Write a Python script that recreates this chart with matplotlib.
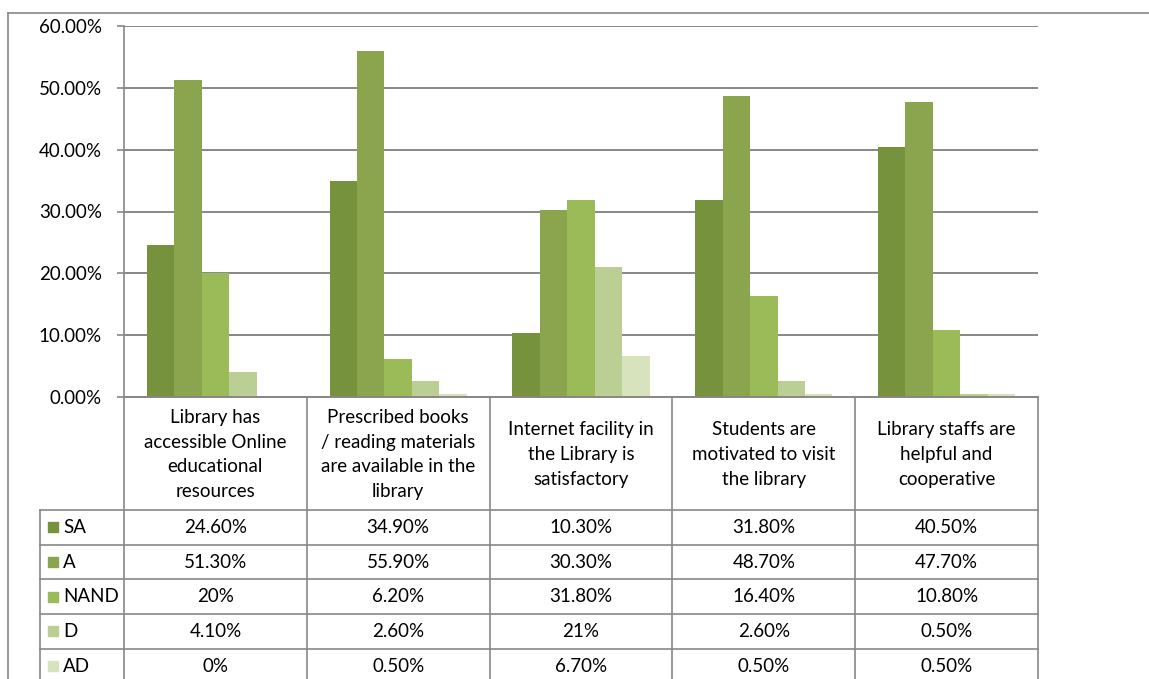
import numpy as np
import matplotlib.pyplot as plt
from matplotlib.patches import Rectangle

plt.rcParams['font.family'] = ['Lato', 'DejaVu Sans']

categories = ['Library has\naccessible Online\neducational\nresources',
              'Prescribed books\n/ reading materials\nare available in the\nlibrary',
              'Internet facility in\nthe Library is\nsatisfactory',
              'Students are\nmotivated to visit\nthe library',
              'Library staffs are\nhelpful and\ncooperative']
series = ['SA', 'A', 'NAND', 'D', 'AD']
SA = [24.6, 34.9, 10.3, 31.8, 40.5]
A = [51.3, 55.9, 30.3, 48.7, 47.7]
NAND = [20, 6.2, 31.8, 16.4, 10.8]
D = [4.1, 2.6, 21, 2.6, 0.5]
AD = [0, 0.5, 6.7, 0.5, 0.5]
values = [SA, A, NAND, D, AD]
colors = ['#76923C', '#8BA54E', '#9BBB59', '#BBCF95', '#D6E3BC']

W, H = 1149, 679
gray = '#878787'
fs = 13.5
x0, x1 = 124, 1038          # plot area left/right (px)
y_top, y_base = 26, 397     # 60% and 0% (px)
y_head = 510
row_h = 34.7
leg_x = 40

fig = plt.figure(figsize=(W/100, H/100), dpi=100)
ax = fig.add_axes([x0/W, 1 - y_base/H, (x1-x0)/W, (y_base-y_top)/H])

n = len(categories)
bw = 0.15
xs = np.arange(n)
for j, (name, vals) in enumerate(zip(series, values)):
    ax.bar(xs + (j-2)*bw, np.array(vals)/100, width=bw, color=colors[j],
           edgecolor='none', zorder=3)

ax.set_xlim(-0.5, n-0.5)
ax.set_ylim(0, 0.6)
ax.set_yticks(np.arange(0, 0.61, 0.1))
ax.set_yticklabels(['%.2f%%' % (v*100) for v in np.arange(0, 0.61, 0.1)], fontsize=fs)
ax.set_xticks([])
ax.yaxis.grid(True, color=gray, lw=1.4, zorder=1)
ax.tick_params(axis='y', length=5, width=1.2, color=gray, pad=11)
for s in ['top', 'right', 'bottom']:
    ax.spines[s].set_visible(False)
ax.spines['left'].set_color(gray)
ax.spines['left'].set_linewidth(1.2)
ax.set_axisbelow(True)

# data table drawn in pixel coordinates
ov = fig.add_axes([0, 0, 1, 1], zorder=5)
ov.set_xlim(0, W)
ov.set_ylim(H, 0)
ov.axis('off')
ov.patch.set_alpha(0)

# outer chart border
ov.plot([8, W], [13, 13], color=gray, lw=1.2)
ov.plot([8, 8], [13, H], color=gray, lw=1.2)

col_w = (x1 - x0) / n
edges = [x0 + col_w*i for i in range(n+1)]
ov.plot([x0, x1], [y_base, y_base], color=gray, lw=1.4)
for e in edges:
    ov.plot([e, e], [y_base, H], color=gray, lw=1.2)
ov.plot([leg_x, leg_x], [y_head, H], color=gray, lw=1.2)
for r in range(len(series)):
    yy = y_head + r*row_h
    ov.plot([leg_x, x1], [yy, yy], color=gray, lw=1.2)

def fmt(v):
    return '%d%%' % v if float(v).is_integer() else '%.2f%%' % v

for i, cat in enumerate(categories):
    cx = (edges[i] + edges[i+1]) / 2
    ov.text(cx, (y_base + y_head)/2 + 1, cat, ha='center', va='center',
            fontsize=fs, linespacing=1.55)
for r, (name, vals) in enumerate(zip(series, values)):
    cy = y_head + (r + 0.5)*row_h
    ov.add_patch(Rectangle((48, cy-5), 10, 10, color=colors[r]))
    ov.text(63, cy, name, ha='left', va='center', fontsize=fs)
    for i, v in enumerate(vals):
        cx = (edges[i] + edges[i+1]) / 2
        ov.text(cx, cy, fmt(v), ha='center', va='center', fontsize=fs)

fig.savefig('out.png', dpi=100, facecolor='white')
